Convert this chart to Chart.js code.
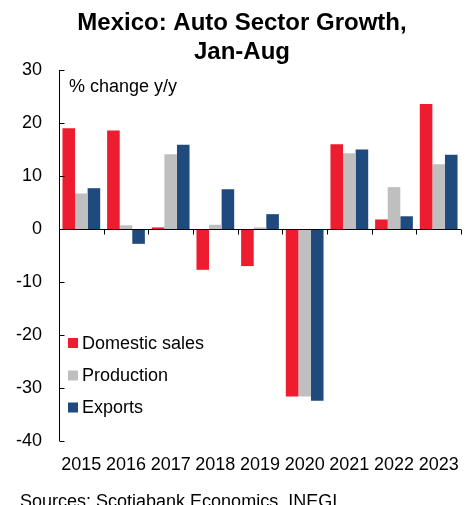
<!DOCTYPE html>
<html>
<head>
<meta charset="utf-8">
<script src="https://cdn.jsdelivr.net/npm/chart.js@4.4.1/dist/chart.umd.min.js"></script>
<style>
  html, body { margin: 0; padding: 0; background: #fff; }
  #wrap { width: 469px; height: 505px; position: relative; }
</style>
</head>
<body>
<div id="wrap"><canvas id="autoChart"></canvas></div>
<script>
const years = ['2015', '2016', '2017', '2018', '2019', '2020', '2021', '2022', '2023'];
const domesticSales = [19.0, 18.6, 0.3, -7.7, -7.0, -31.6, 16.0, 1.8, 23.6];
const production = [6.7, 0.7, 14.1, 0.8, 0.3, -31.6, 14.3, 7.9, 12.2];
const exportsGrowth = [7.7, -2.8, 15.9, 7.5, 2.8, -32.4, 15.0, 2.4, 14.0];
const yTicks = [30, 20, 10, 0, -10, -20, -30, -40];
const titleLines = ['Mexico: Auto Sector Growth,', 'Jan-Aug'];

const FONT = '"Liberation Sans", Arial, sans-serif';
const RED = '#ED1C2E';
const GREY = '#BFBFBF';
const NAVY = '#1F4A7E';

// title, axis lines, inward ticks, legend and notes
const decorations = {
    id: 'decorations',
    afterDatasetsDraw(chart) {
        const ctx = chart.ctx;
        const area = chart.chartArea;
        const y = chart.scales.y;
        ctx.save();
        ctx.strokeStyle = '#000';
        ctx.lineWidth = 1;

        // y axis with ticks pointing right
        const ax = Math.round(area.left) + 0.5;
        ctx.beginPath();
        ctx.moveTo(ax, y.getPixelForValue(30));
        ctx.lineTo(ax, y.getPixelForValue(-40));
        yTicks.forEach(v => {
            const py = Math.round(y.getPixelForValue(v)) + 0.5;
            ctx.moveTo(ax, py);
            ctx.lineTo(ax + 5, py);
        });
        ctx.stroke();

        // zero line with ticks pointing down between years
        const zy = Math.round(y.getPixelForValue(0)) + 0.5;
        ctx.beginPath();
        ctx.moveTo(area.left, zy);
        ctx.lineTo(area.right, zy);
        const step = (area.right - area.left) / years.length;
        for (let i = 0; i <= years.length; i++) {
            const px = Math.round(area.left + i * step) + 0.5;
            ctx.moveTo(px, zy);
            ctx.lineTo(px, zy + 5);
        }
        ctx.stroke();

        // title
        ctx.fillStyle = '#000';
        ctx.textAlign = 'center';
        ctx.textBaseline = 'alphabetic';
        ctx.font = 'bold 24px ' + FONT;
        ctx.fillText(titleLines[0], 242, 30);
        ctx.fillText(titleLines[1], 242, 59);

        // legend inside plot
        ctx.textAlign = 'left';
        ctx.font = '18px ' + FONT;
        ctx.textBaseline = 'middle';
        const legendY = [343, 375.5, 407.5];
        chart.data.datasets.forEach((ds, i) => {
            ctx.fillStyle = ds.backgroundColor;
            ctx.fillRect(68, legendY[i] - 5, 10, 10);
            ctx.fillStyle = '#000';
            ctx.fillText(ds.label, 82, legendY[i] + 1);
        });

        ctx.fillStyle = '#000';
        ctx.textBaseline = 'alphabetic';
        ctx.fillText('% change y/y', 69, 92);
        ctx.fillText('Sources: Scotiabank Economics, INEGI.', 20, 507);
        ctx.restore();
    }
};

new Chart(document.getElementById('autoChart'), {
    type: 'bar',
    data: {
        labels: years,
        datasets: [{
                label: 'Domestic sales',
                data: domesticSales,
                backgroundColor: RED,
            },
            {
                label: 'Production',
                data: production,
                backgroundColor: GREY,
            },
            {
                label: 'Exports',
                data: exportsGrowth,
                backgroundColor: NAVY,
            },
        ],
    },
    options: {
        responsive: true,
        maintainAspectRatio: false,
        animation: false,
        layout: {
            padding: { left: 0, right: 8, top: 70, bottom: 0 }
        },
        datasets: {
            bar: {
                categoryPercentage: 0.845,
                barPercentage: 1.0,
            }
        },
        plugins: {
            legend: { display: false },
            tooltip: { enabled: false },
            title: { display: false },
        },
        scales: {
            x: {
                grid: { display: false },
                border: { display: false },
                ticks: {
                    color: '#000',
                    font: { family: FONT, size: 18 },
                    padding: 5,
                    maxRotation: 0,
                },
                afterFit(scale) { scale.height = 64; }
            },
            y: {
                min: -40,
                max: 30,
                grid: { display: false },
                border: { display: false },
                ticks: {
                    stepSize: 10,
                    color: '#000',
                    font: { family: FONT, size: 18 },
                    padding: 9,
                },
                afterFit(scale) { scale.width = 59; }
            },
        },
    },
    plugins: [decorations],
});
</script>
</body>
</html>
